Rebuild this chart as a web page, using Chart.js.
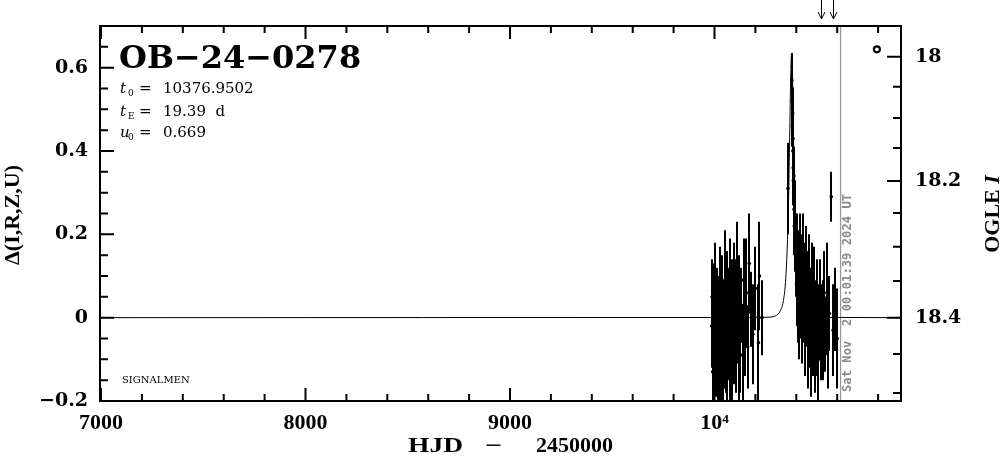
<!DOCTYPE html>
<html><head><meta charset="utf-8">
<script src="https://cdn.jsdelivr.net/npm/chart.js@4.4.1/dist/chart.umd.min.js"></script>
<style>html,body{margin:0;padding:0;background:#fff}#wrap{width:1004px;height:459px;position:relative}</style>
</head><body><div id="wrap"><canvas id="c" width="1004" height="459"></canvas></div>
<script>
// ---- data ----
const obsHJD = [
 9986,9988,9991,9995,9999,10003,10006,10009,10012,10015,10018,10021,10024,10027,10030,10033,10036,10039,10042,10045,
 10048,10051,10054,10057,10060,10063,10066,10069,10072,10075,10078,10081,10084,10087,10090,10093,10096,10099,10102,10106,
 10110,10114,10118,10122,10127,10132,10137,10142,10148,10155,10162,10170,10178,10188,10200,10215,10220,10232,
 10359,10378,10379,10380,10381,10382,10383,10384,10385,10386,10387,10388,10389,10390,10392,10393,10395,
 10398,10401,10404,10407,10410,10413,10416,10419,10422,10425,10428,10431,10434,10437,10440,10443,10446,10449,10452,10455,
 10458,10461,10464,10467,10470,10473,10476,10479,10482,10485,10488,10491,10494,10497,10500,10504,10508,10512,10516,10520,
 10525,10530,10536,10542,10548,10552,10555,10562,10571,10580,10590,10600];
const obsDelta = [
 -0.02,0.05,-0.13,0.02,-0.06,0.08,-0.10,-0.03,0.04,-0.15,-0.05,0.01,-0.09,0.07,-0.12,-0.02,0.03,-0.07,-0.14,0.00,
 -0.04,0.09,-0.08,-0.01,0.05,-0.11,-0.03,0.02,-0.06,0.06,-0.09,-0.02,0.04,-0.13,0.00,-0.05,0.08,-0.04,0.02,-0.08,
 0.11,-0.02,-0.10,0.05,-0.05,0.03,-0.09,0.09,-0.03,0.06,-0.07,0.13,0.02,-0.04,0.07,-0.06,0.10,0.00,
 0.31,0.57,0.52,0.55,0.46,0.49,0.40,0.43,0.36,0.33,0.30,0.34,0.26,0.22,0.25,0.18,0.20,
 0.14,0.08,0.17,0.05,0.12,0.02,0.10,0.15,0.04,0.09,-0.01,0.07,0.13,0.03,0.08,-0.03,0.05,0.10,0.01,0.06,
 -0.05,0.03,0.09,-0.02,0.04,-0.07,0.02,0.07,-0.04,0.01,0.05,-0.08,0.00,-0.03,0.04,-0.06,-0.10,-0.01,0.03,-0.05,
 0.00,-0.03,0.06,-0.04,0.02,0.05,-0.07,0.01,0.29,-0.03,0.02,-0.05];
const obsErr = [
 0.10,0.09,0.08,0.11,0.12,0.10,0.09,0.13,0.08,0.10,0.11,0.09,0.12,0.10,0.09,0.11,0.12,0.08,0.10,0.09,
 0.13,0.12,0.10,0.08,0.11,0.09,0.12,0.10,0.09,0.13,0.11,0.08,0.10,0.12,0.09,0.11,0.10,0.08,0.12,0.10,
 0.12,0.09,0.11,0.10,0.13,0.09,0.12,0.10,0.11,0.13,0.10,0.12,0.09,0.12,0.10,0.14,0.13,0.09,
 0.11,0.065,0.05,0.06,0.05,0.06,0.05,0.06,0.05,0.06,0.05,0.07,0.06,0.07,0.08,0.07,0.08,
 0.09,0.10,0.08,0.11,0.09,0.12,0.08,0.10,0.09,0.11,0.10,0.08,0.12,0.09,0.10,0.11,0.09,0.12,0.08,0.10,
 0.12,0.09,0.11,0.10,0.08,0.12,0.09,0.11,0.10,0.08,0.12,0.10,0.09,0.11,0.10,0.12,0.13,0.09,0.11,0.10,
 0.08,0.12,0.10,0.09,0.11,0.13,0.10,0.09,0.06,0.11,0.10,0.12];

const modelHJD   = [6995,10150,10257,10297,10327,10337,10347,10357,10362,10367,10372,10377,10382,10387,10392,10397,10407,10417,10427,10457,10497,10600,10912];
const modelDelta = [0,0.0005,0.001,0.004,0.022,0.041,0.084,0.187,0.281,0.414,0.562,0.635,0.562,0.414,0.281,0.187,0.084,0.041,0.022,0.004,0.001,0.0005,0];

const xTickValues = [7000,8000,9000,10000];
const xTickLabels = ['7000','8000','9000','10\u2074'];
const leftTickValues = [-0.2,0,0.2,0.4,0.6];
const leftTickLabels = ['\u22120.2','0','0.2','0.4','0.6'];
const rightTickMag   = [18.0,18.05,18.1,18.15,18.2,18.25,18.3,18.35,18.4,18.45,18.5];
const rightTickDelta = [0.626,0.554,0.479,0.407,0.328,0.251,0.170,0.088,0,-0.087,-0.181];
const rightTickLabels= ['18','','','','18.2','','','','18.4','',''];
const arrowHJD = [10521,10580];
const dateLineHJD = 10616.5;
const markerHJD = [10794]; const markerDelta = [0.644];
const eventName = 'OB\u221224\u22120278';
const paramT0 = '10376.9502', paramTE = '19.39  d', paramU0 = '0.669';
const dateText = 'Sat Nov  2 00:01:39 2024 UT';

// ---- chart ----
const rightLabeled = rightTickDelta.map((d,i)=>({d,l:rightTickLabels[i]})).filter(o=>o.l!=='').sort((a,b)=>a.d-b.d);

function stretchText(ctx, txt, x, y, targetW){
  const w = ctx.measureText(txt).width;
  ctx.save(); ctx.translate(x,y); ctx.scale(targetW/w,1); ctx.fillText(txt,0,0); ctx.restore();
}

const drawPlugin = {
  id:'pgplot',
  beforeDatasetsDraw(chart){
    const ctx=chart.ctx, a=chart.chartArea, xs=chart.scales.x, ys=chart.scales.y;
    ctx.save();
    ctx.beginPath(); ctx.rect(a.left,a.top,a.right-a.left,a.bottom-a.top); ctx.clip();
    const px=xs.getPixelForValue(dateLineHJD);
    ctx.strokeStyle='#999'; ctx.lineWidth=1.3;
    ctx.beginPath(); ctx.moveTo(px,a.top); ctx.lineTo(px,a.bottom); ctx.stroke();
    ctx.strokeStyle='#000'; ctx.lineWidth=2;
    ctx.beginPath();
    for(let i=0;i<obsHJD.length;i++){
      const x=Math.round(xs.getPixelForValue(obsHJD[i]));
      ctx.moveTo(x, ys.getPixelForValue(obsDelta[i]-obsErr[i]));
      ctx.lineTo(x, ys.getPixelForValue(obsDelta[i]+obsErr[i]));
    }
    ctx.stroke();
    ctx.restore();
    ctx.save();
    ctx.fillStyle='#8a8a8a'; ctx.font='bold 12.2px "DejaVu Sans Mono"';
    ctx.translate(px+7, 392); ctx.rotate(-Math.PI/2);
    ctx.textAlign='left'; ctx.textBaseline='middle';
    ctx.fillText(dateText,0,0);
    ctx.restore();
  },
  afterDraw(chart){
    const ctx=chart.ctx, a=chart.chartArea, xs=chart.scales.x, ys=chart.scales.y;
    ctx.save();
    ctx.strokeStyle='#000'; ctx.fillStyle='#000'; ctx.lineWidth=2;
    ctx.strokeRect(a.left,a.top,a.right-a.left,a.bottom-a.top);
    ctx.beginPath();
    for(let v=7000; v<=10900; v+=200){
      const x=xs.getPixelForValue(v); const L=(v%1000===0)?13:7;
      ctx.moveTo(x,a.bottom); ctx.lineTo(x,a.bottom-L);
      ctx.moveTo(x,a.top); ctx.lineTo(x,a.top+L);
    }
    for(let k=-4;k<=13;k++){
      const y=ys.getPixelForValue(k*0.05); const L=(k%4===0)?14:8;
      ctx.moveTo(a.left,y); ctx.lineTo(a.left+L,y);
    }
    rightTickDelta.forEach((d,i)=>{
      const y=ys.getPixelForValue(d); const L=rightTickLabels[i]!==''?14:8;
      ctx.moveTo(a.right,y); ctx.lineTo(a.right-L,y);
    });
    ctx.stroke();
    ctx.lineWidth=1; ctx.beginPath();
    arrowHJD.forEach(h=>{
      const x=Math.round(xs.getPixelForValue(h))+0.5;
      ctx.moveTo(x,0); ctx.lineTo(x,19);
      ctx.moveTo(x-3.5,12); ctx.lineTo(x,19); ctx.lineTo(x+3.5,12);
    });
    ctx.stroke();
    ctx.textAlign='left'; ctx.textBaseline='alphabetic';
    ctx.font='bold 32px "DejaVu Serif"';
    ctx.fillText(eventName,119,68);
    const rows=[['t','0',paramT0,93],['t','E',paramTE,116],['u','0',paramU0,137]];
    rows.forEach(r=>{
      ctx.font='italic 15px "DejaVu Serif"'; ctx.fillText(r[0],120,r[3]);
      ctx.font='9px "DejaVu Serif"'; ctx.fillText(r[1],128,r[3]+3);
      ctx.font='15px "DejaVu Serif"'; ctx.fillText('=',139,r[3]); ctx.fillText(r[2],163,r[3]);
    });
    ctx.font='10px "DejaVu Serif"'; ctx.fillText('SIGNALMEN',122,383);
    // x title
    ctx.font='bold 21px "Liberation Serif"';
    stretchText(ctx,'HJD',408,452,55);
    stretchText(ctx,'\u2212',485,452,17);
    stretchText(ctx,'2450000',536,452,77);
    // left title
    ctx.save(); ctx.translate(13,215); ctx.rotate(-Math.PI/2);
    ctx.textAlign='center'; ctx.textBaseline='middle';
    ctx.font='bold 22px "Liberation Serif"'; ctx.fillText('\u0394(I,R,Z,U)',0,0);
    ctx.restore();
    // right title
    ctx.save(); ctx.translate(993,214); ctx.rotate(-Math.PI/2);
    ctx.textBaseline='middle';
    ctx.font='bold 22px "Liberation Serif"'; const w1=ctx.measureText('OGLE ').width;
    ctx.font='bold italic 22px "Liberation Serif"'; const w2=ctx.measureText('I').width;
    const x0=-(w1+w2)/2;
    ctx.font='bold 22px "Liberation Serif"'; ctx.fillText('OGLE ',x0,0);
    ctx.font='bold italic 22px "Liberation Serif"'; ctx.fillText('I',x0+w1,0);
    ctx.restore();
    ctx.restore();
  }
};

new Chart(document.getElementById('c'),{
  data:{datasets:[
    {type:'scatter',label:'obs',data:obsHJD.map((x,i)=>({x,y:obsDelta[i]})),pointRadius:1.8,pointBackgroundColor:'#000',pointBorderWidth:0,order:1},
    {type:'scatter',label:'marker',data:markerHJD.map((x,i)=>({x,y:markerDelta[i]})),pointRadius:3,pointBackgroundColor:'#fff',pointBorderColor:'#000',pointBorderWidth:2.2,order:0},
    {type:'line',label:'model',data:modelHJD.map((x,i)=>({x,y:modelDelta[i]})),borderColor:'#000',borderWidth:1,pointRadius:0,cubicInterpolationMode:'monotone',order:2}
  ]},
  options:{
    responsive:false,animation:false,devicePixelRatio:1,
    layout:{padding:{top:26,left:0,right:0,bottom:0}},
    plugins:{legend:{display:false},tooltip:{enabled:false}},
    scales:{
      x:{type:'linear',position:'bottom',min:6995,max:10912,
        grid:{display:false,drawTicks:false},border:{display:false},
        afterBuildTicks:s=>{s.ticks=xTickValues.map(v=>({value:v}));},
        ticks:{padding:11,maxRotation:0,autoSkip:false,color:'#000',font:{family:'Liberation Serif',weight:'bold',size:22,lineHeight:1},
          callback:(v)=>{const i=xTickValues.indexOf(v);return i>=0?xTickLabels[i]:'';}},
        afterFit:s=>{s.height=58;}},
      y:{type:'linear',position:'left',min:-0.2,max:0.7,
        grid:{display:false,drawTicks:false},border:{display:false},
        afterBuildTicks:s=>{s.ticks=leftTickValues.map(v=>({value:v}));},
        ticks:{padding:12,autoSkip:false,color:'#000',font:{family:'DejaVu Serif',weight:'bold',size:19,lineHeight:1},
          callback:(v)=>{const i=leftTickValues.findIndex(t=>Math.abs(t-v)<1e-9);return i>=0?leftTickLabels[i]:'';}},
        afterFit:s=>{s.width=100;}},
      y2:{type:'linear',position:'right',min:-0.2,max:0.7,
        grid:{display:false,drawTicks:false},border:{display:false},
        afterBuildTicks:s=>{s.ticks=rightLabeled.map(o=>({value:o.d}));},
        ticks:{padding:14,autoSkip:false,color:'#000',font:{family:'DejaVu Serif',weight:'bold',size:19,lineHeight:1},
          callback:(v,i)=>rightLabeled[i]?rightLabeled[i].l:''},
        afterFit:s=>{s.width=103;}}
    }
  },
  plugins:[drawPlugin]
});
</script></body></html>
